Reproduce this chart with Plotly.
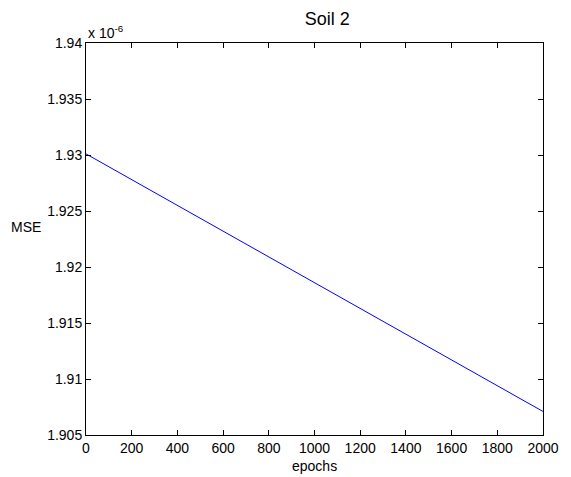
import plotly.graph_objects as go

# Training error over epochs
epochs = [0, 400, 800, 1200, 1600, 2000]
mse = [1.93010e-6, 1.92550e-6, 1.92090e-6, 1.91630e-6, 1.91170e-6, 1.90710e-6]

x_ticks = [0, 200, 400, 600, 800, 1000, 1200, 1400, 1600, 1800, 2000]
y_ticks = [1.905, 1.91, 1.915, 1.92, 1.925, 1.93, 1.935, 1.94]
y_tick_text = ["1.905", "1.91", "1.915", "1.92", "1.925", "1.93", "1.935", "1.94"]
scale = 1e-6

FONT = "Liberation Sans, Arial, sans-serif"

fig = go.Figure()
fig.add_trace(go.Scatter(
    x=epochs, y=mse, mode="lines",
    line=dict(color="#0000ff", width=1),
    showlegend=False,
))

axis_common = dict(
    showline=True, linecolor="black", linewidth=1, mirror="ticks",
    ticks="inside", ticklen=5, tickwidth=1, tickcolor="black",
    showgrid=False, zeroline=False,
    tickfont=dict(family=FONT, size=14, color="black"),
)

fig.update_xaxes(
    range=[0, 2000], tickvals=x_ticks,
    **axis_common,
)
fig.update_yaxes(
    range=[1.905 * scale, 1.94 * scale],
    tickvals=[v * scale for v in y_ticks], ticktext=y_tick_text,
    **axis_common,
)

fig.update_layout(
    width=571, height=477,
    margin=dict(l=86, r=22, t=43, b=42),
    paper_bgcolor="white", plot_bgcolor="white",
    font=dict(family=FONT, color="black"),
    title=dict(text="Soil 2", x=0.573, xanchor="center", y=0.961, yanchor="middle",
               font=dict(family=FONT, size=18, color="black")),
    annotations=[
        dict(text="x 10<sup>-6</sup>", xref="paper", yref="paper", x=0, y=1,
             xanchor="left", yanchor="bottom", showarrow=False, yshift=0,
             font=dict(family=FONT, size=14, color="black")),
        dict(text="MSE", xref="paper", yref="paper", x=-0.095, y=0.53,
             xanchor="right", yanchor="middle", showarrow=False,
             font=dict(family=FONT, size=14, color="black")),
        dict(text="epochs", xref="paper", yref="paper", x=0.5, y=0, yshift=-31,
             xanchor="center", yanchor="middle", showarrow=False,
             font=dict(family=FONT, size=14, color="black")),
    ],
)

fig.write_html("out.html")
